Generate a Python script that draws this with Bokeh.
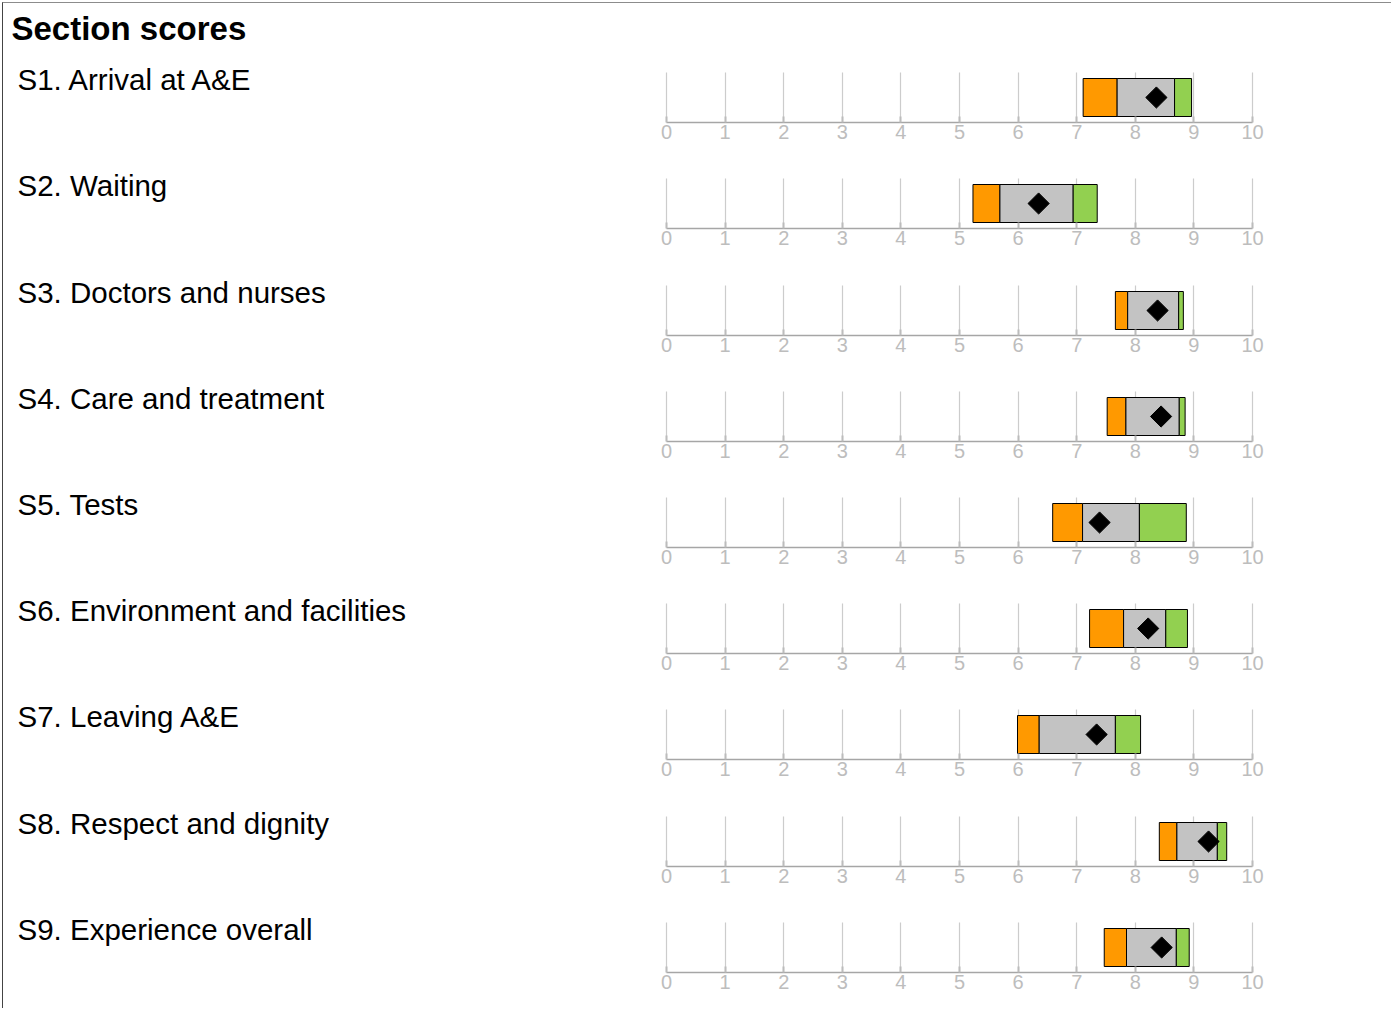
import math
from bokeh.plotting import figure
from bokeh.models import Range1d, LinearAxis, FixedTicker, Label, Grid, ColumnDataSource
from bokeh.layouts import column
from bokeh.embed import file_html
from bokeh.resources import INLINE

title_text = "Section scores"
sections = [
    "S1. Arrival at A&E",
    "S2. Waiting",
    "S3. Doctors and nurses",
    "S4. Care and treatment",
    "S5. Tests",
    "S6. Environment and facilities",
    "S7. Leaving A&E",
    "S8. Respect and dignity",
    "S9. Experience overall",
]
lowest = [7.11, 5.23, 7.66, 7.52, 6.59, 7.22, 5.99, 8.41, 7.47]
lower_band = [7.69, 5.69, 7.87, 7.84, 7.10, 7.80, 6.36, 8.71, 7.85]
upper_band = [8.67, 6.94, 8.74, 8.75, 8.07, 8.52, 7.66, 9.40, 8.70]
highest = [8.96, 7.35, 8.82, 8.85, 8.87, 8.89, 8.09, 9.56, 8.92]
trust_score = [8.36, 6.35, 8.38, 8.44, 7.39, 8.22, 7.34, 9.25, 8.45]
ticks = [0, 1, 2, 3, 4, 5, 6, 7, 8, 9, 10]

seg_colors = ["#FF9900", "#C3C3C3", "#92D050"]

FONT = "Liberation Sans"
TOTAL_W = 1388
PX_PER_UNIT = 58.6
ZERO_PX = 663
x_start = -ZERO_PX / PX_PER_UNIT
x_end = x_start + TOTAL_W / PX_PER_UNIT

tops = [12, 12, 13, 12, 12, 12, 12, 13, 12]
bottoms = [44, 44, 44, 44, 44, 44, 44, 44, 36]
GRID_H = 50.0

HAS_CROSS = "cross_bounds" in Grid.properties()

title_fig = figure(width=TOTAL_W, height=57, output_backend="svg", toolbar_location=None,
                   x_range=Range1d(0, 1), y_range=Range1d(0, 1),
                   x_axis_location=None, y_axis_location=None,
                   min_border=0, min_border_left=0, min_border_right=0,
                   min_border_top=0, min_border_bottom=0)
title_fig.grid.visible = False
title_fig.outline_line_color = None
title_fig.add_layout(Label(x=8, y=32, x_units="screen", y_units="screen", text=title_text,
                           text_font=FONT, text_font_size="33px", text_font_style="bold",
                           text_color="black", text_baseline="alphabetic"))

figs = [title_fig]
for i, name in enumerate(sections):
    frame_h = tops[i] + GRID_H
    h = frame_h + bottoms[i]
    p = figure(width=TOTAL_W, height=int(h), output_backend="svg", toolbar_location=None,
               x_range=Range1d(x_start, x_end), y_range=Range1d(0, frame_h / GRID_H),
               x_axis_location=None, y_axis_location=None,
               min_border=0, min_border_left=0, min_border_right=0,
               min_border_top=0, min_border_bottom=bottoms[i])
    p.grid.visible = False
    p.outline_line_color = None

    ticker = FixedTicker(ticks=ticks)
    ax = LinearAxis(ticker=ticker, bounds=(ticks[0], ticks[-1]))
    ax.axis_line_color = "#a6a6a6"
    ax.axis_line_width = 1.5
    ax.major_tick_in = 6
    ax.major_tick_out = 0
    ax.major_tick_line_color = "#bcbcbc"
    ax.major_tick_line_width = 2
    ax.minor_tick_line_color = None
    ax.major_label_text_color = "#bdbdbd"
    ax.major_label_text_font = FONT
    ax.major_label_text_font_size = "20px"
    ax.major_label_standoff = 2
    p.add_layout(ax, "below")

    if HAS_CROSS:
        g = Grid(dimension=0, ticker=ticker, bounds=(ticks[0], ticks[-1]), cross_bounds=(0, 1))
        g.grid_line_color = "#cccccc"
        g.grid_line_width = 1.2
        p.add_layout(g)
    else:
        p.segment(x0=ticks, x1=ticks, y0=[0] * len(ticks), y1=[1] * len(ticks),
                  line_color="#cccccc", line_width=1.2)

    src = ColumnDataSource(dict(
        left=[lowest[i], lower_band[i], upper_band[i]],
        right=[lower_band[i], upper_band[i], highest[i]],
        y=[0.5, 0.5, 0.5],
        color=seg_colors,
    ))
    p.hbar(y="y", left="left", right="right", height=0.76, source=src,
           fill_color="color", line_color="black", line_width=1)
    p.scatter(x=[trust_score[i]], y=[0.5], marker="square", angle=math.pi / 4,
              size=15, fill_color="black", line_color="black")

    p.add_layout(Label(x=14, y=43, x_units="screen", y_units="screen", text=name,
                       text_font=FONT, text_font_size="29.5px", text_color="black",
                       text_baseline="alphabetic"))
    figs.append(p)

layout = column(*figs, spacing=0,
                styles={"border-top": "1px solid #8c8c8c", "border-left": "1px solid #444444",
                        "margin-left": "2px", "margin-top": "2px"})

with open("out.html", "w") as f:
    f.write(file_html(layout, INLINE))
